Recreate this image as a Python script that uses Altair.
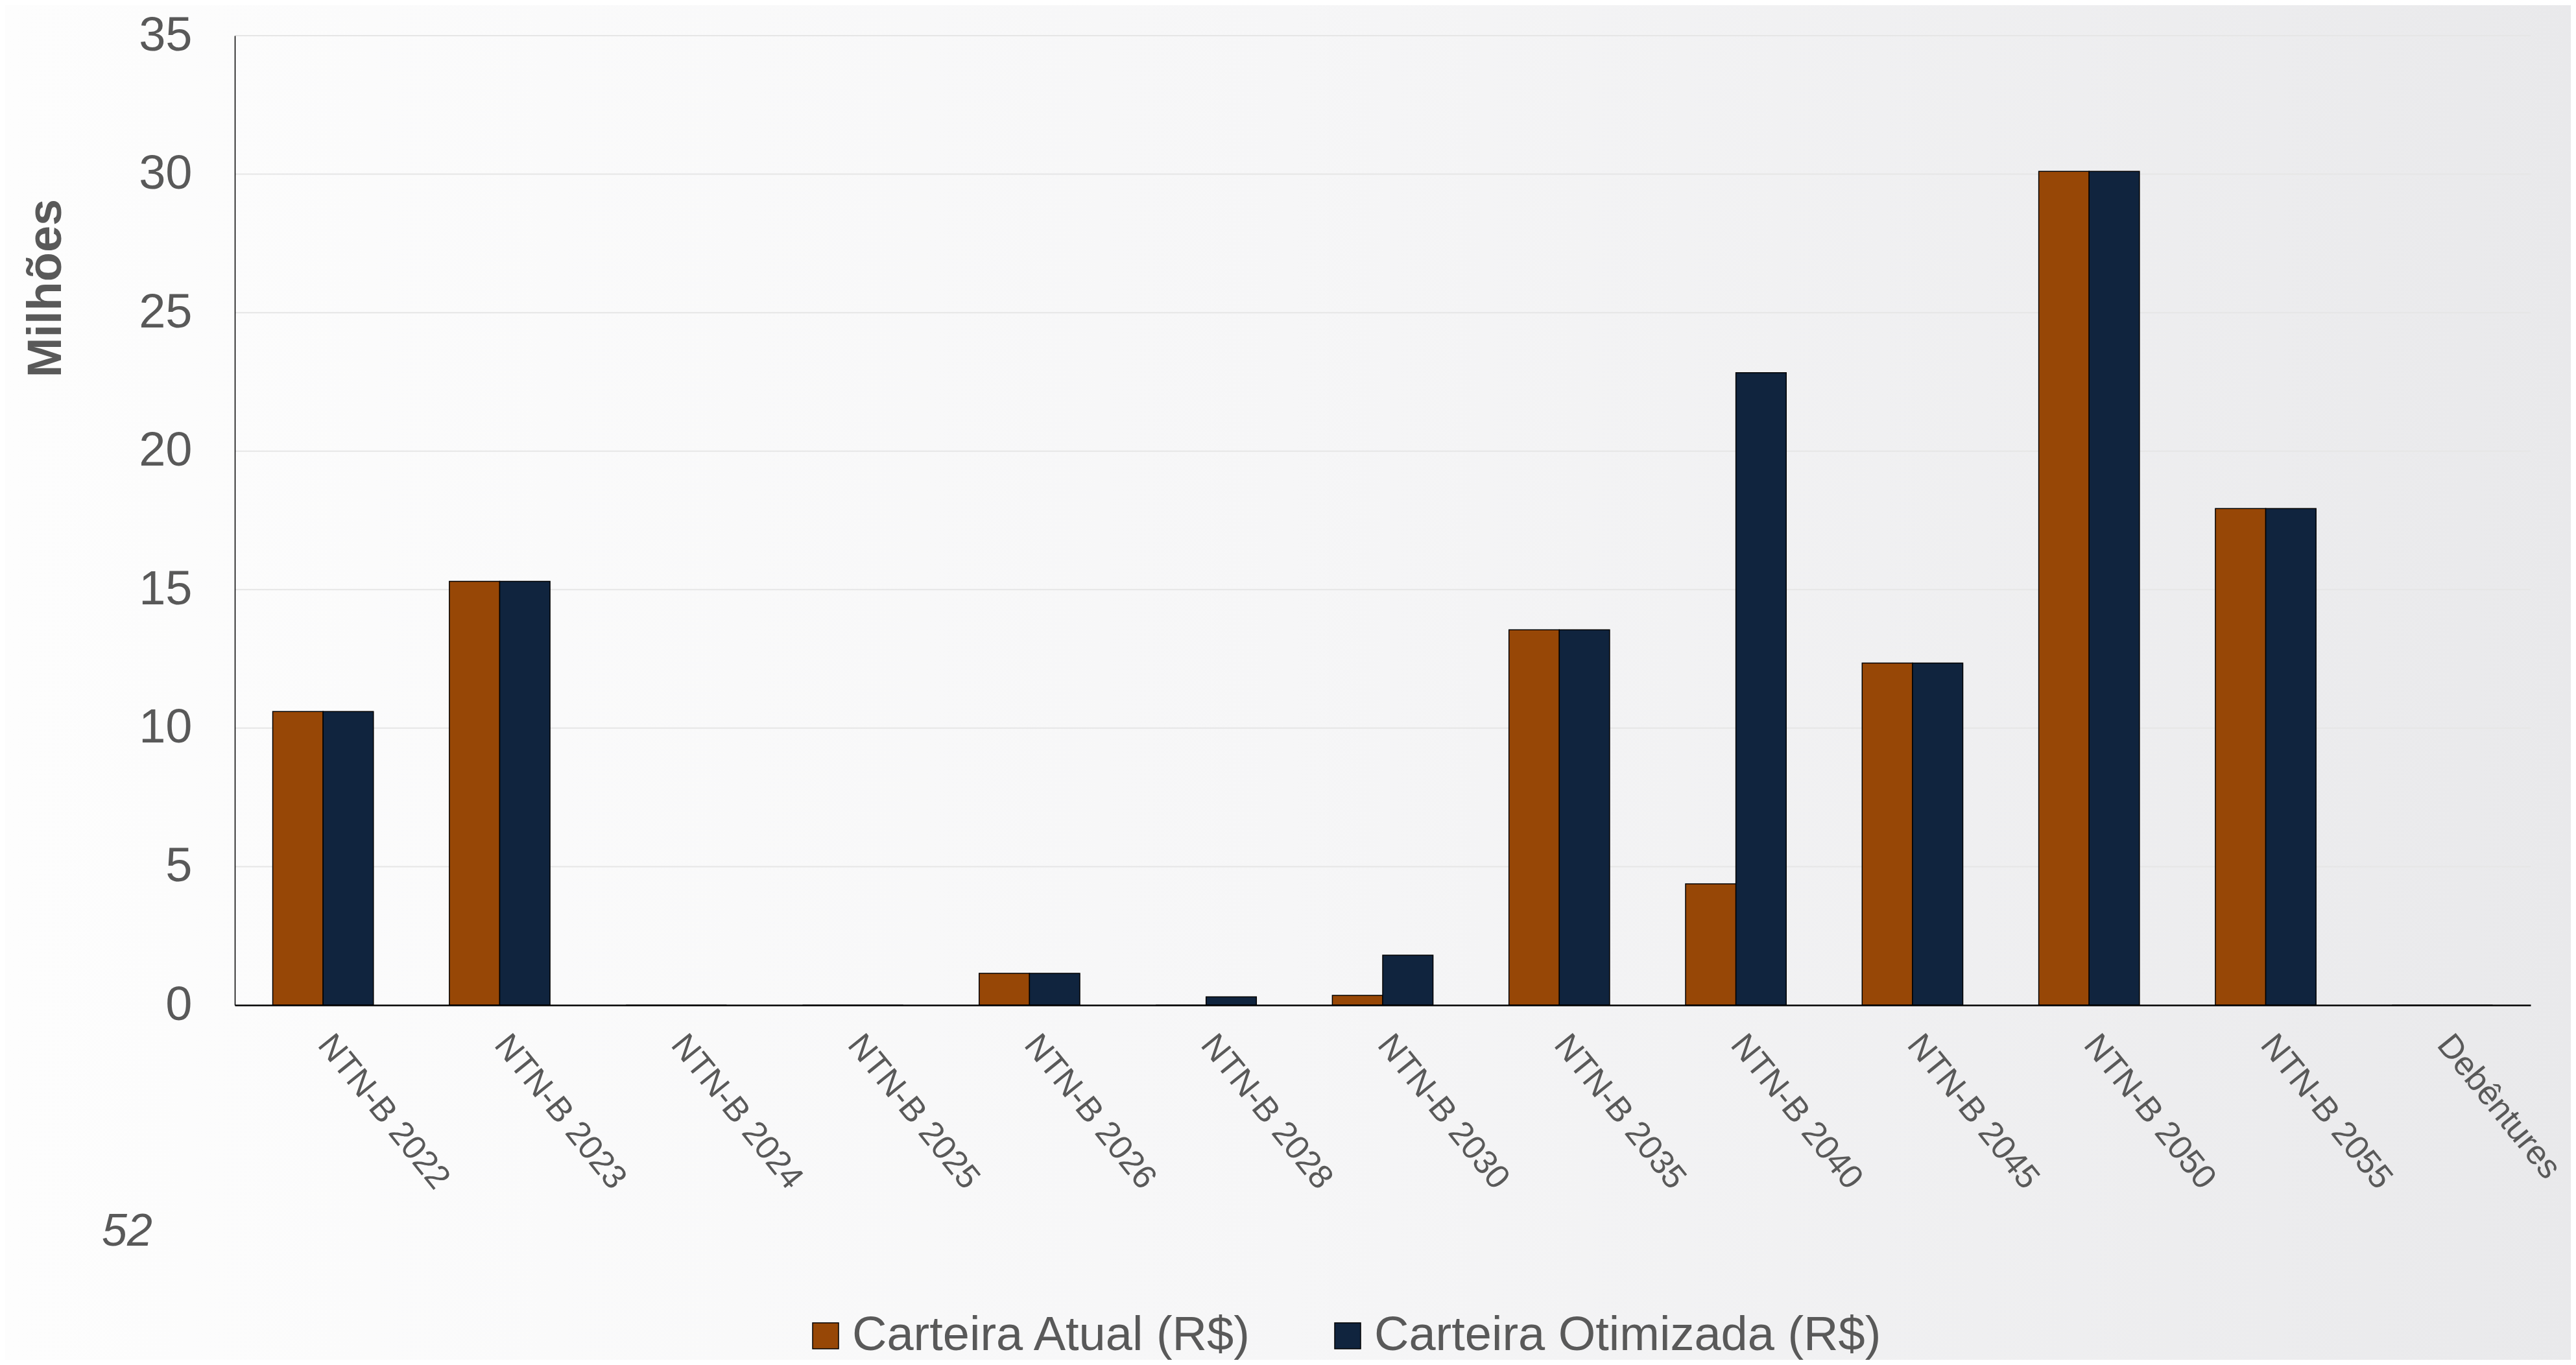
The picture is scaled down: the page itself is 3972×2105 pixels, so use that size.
import altair as alt
import pandas as pd

categorias = ["NTN-B 2022", "NTN-B 2023", "NTN-B 2024", "NTN-B 2025", "NTN-B 2026",
              "NTN-B 2028", "NTN-B 2030", "NTN-B 2035", "NTN-B 2040", "NTN-B 2045",
              "NTN-B 2050", "NTN-B 2055", "Debêntures"]
carteira_atual = [10.6, 15.3, 0, 0, 1.15, 0, 0.35, 13.55, 4.38, 12.35, 30.1, 17.93, 0]
carteira_otimizada = [10.6, 15.3, 0, 0, 1.15, 0.3, 1.8, 13.55, 22.83, 12.35, 30.1, 17.93, 0]
series = ["Carteira Atual (R$)", "Carteira Otimizada (R$)"]
cores = ["#974706", "#10243E"]
y_ticks = [0, 5, 10, 15, 20, 25, 30, 35]
pagina = "52"

rows = []
for i, c in enumerate(categorias):
    rows.append({"cat": c, "serie": series[0], "valor": carteira_atual[i]})
    rows.append({"cat": c, "serie": series[1], "valor": carteira_otimizada[i]})
df = pd.DataFrame(rows)
grid_df = pd.DataFrame({"valor": [t for t in y_ticks if t > 0]})
one = pd.DataFrame({"a": [0]})

W, H = 3540, 1495
PL, PT, PR, PB = 354, 47, 62, 547
FONT = "Liberation Sans, Arial, sans-serif"
GREY = "#595959"

y_axis = alt.Axis(values=y_ticks, grid=False, ticks=False, domainColor="black",
                  domainWidth=1.5, labelFontSize=74, labelColor=GREY, labelPadding=66,
                  labelFont=FONT, title="Milhões", titleFontSize=74,
                  titleFontWeight="bold", titleColor=GREY, titleFont=FONT,
                  titleX=-291, titleY=389, titleAlign="center",
                  titleBaseline="middle", titleAngle=270, zindex=2)
y_scale = alt.Scale(domain=[0, 35])

bg = alt.Chart(one).mark_rect(
    fill=alt.Gradient(
        gradient="linear", x1=0, x2=1, y1=0, y2=0,
        stops=[alt.GradientStop(color="#fdfdfd", offset=0),
               alt.GradientStop(color="#f6f6f7", offset=0.5),
               alt.GradientStop(color="#e9e9eb", offset=1)]
    )
).encode(x=alt.value(-PL), x2=alt.value(W + PR), y=alt.value(-PT), y2=alt.value(H + PB))

grid = alt.Chart(grid_df).mark_rule(color="#e6e6e6", strokeWidth=2).encode(
    y=alt.Y("valor:Q", axis=y_axis, scale=y_scale),
    x=alt.value(0), x2=alt.value(W)
)

bars = alt.Chart(df).mark_bar(stroke="black", strokeWidth=1.5).encode(
    x=alt.X("cat:N", sort=categorias, title=None,
            scale=alt.Scale(paddingInner=0.43, paddingOuter=0.215),
            axis=alt.Axis(labelAngle=51, labelAlign="left", labelBaseline="top",
                          labelFontSize=52, labelColor=GREY, labelPadding=36, labelOffset=22,
                          labelLimit=1500, labelOverlap=False,
                          ticks=False, domainColor="black", domainWidth=2.5,
                          labelFont=FONT, zindex=2)),
    xOffset=alt.XOffset("serie:N", sort=series, scale=alt.Scale(paddingInner=0, paddingOuter=0)),
    y=alt.Y("valor:Q", scale=y_scale, axis=y_axis),
    color=alt.Color("serie:N", sort=series,
                    scale=alt.Scale(domain=series, range=cores),
                    legend=alt.Legend(title=None, orient="none", legendX=874, legendY=1968,
                                      direction="horizontal", columns=2,
                                      symbolType="square", symbolSize=1600,
                                      symbolStrokeColor="black", symbolStrokeWidth=1.5,
                                      labelFontSize=74, labelColor=GREY, labelFont=FONT,
                                      labelOffset=4, columnPadding=110,
                                      labelLimit=2000, zindex=2))
)

pnum = alt.Chart(one).mark_text(
    text=pagina, fontSize=70, fontStyle="italic", color=GREY, font=FONT,
    align="left", baseline="middle"
).encode(x=alt.value(-205), y=alt.value(1845))

chart = alt.layer(bg, grid, bars, pnum).properties(
    width=W, height=H,
    padding={"left": PL, "top": PT, "right": PR, "bottom": PB},
    autosize=alt.AutoSizeParams(type="none"),
    background="#f4f4f5"
).configure_view(stroke=None).configure(font=FONT)

chart.save("out.html", embed_options={"renderer": "svg", "actions": False})
